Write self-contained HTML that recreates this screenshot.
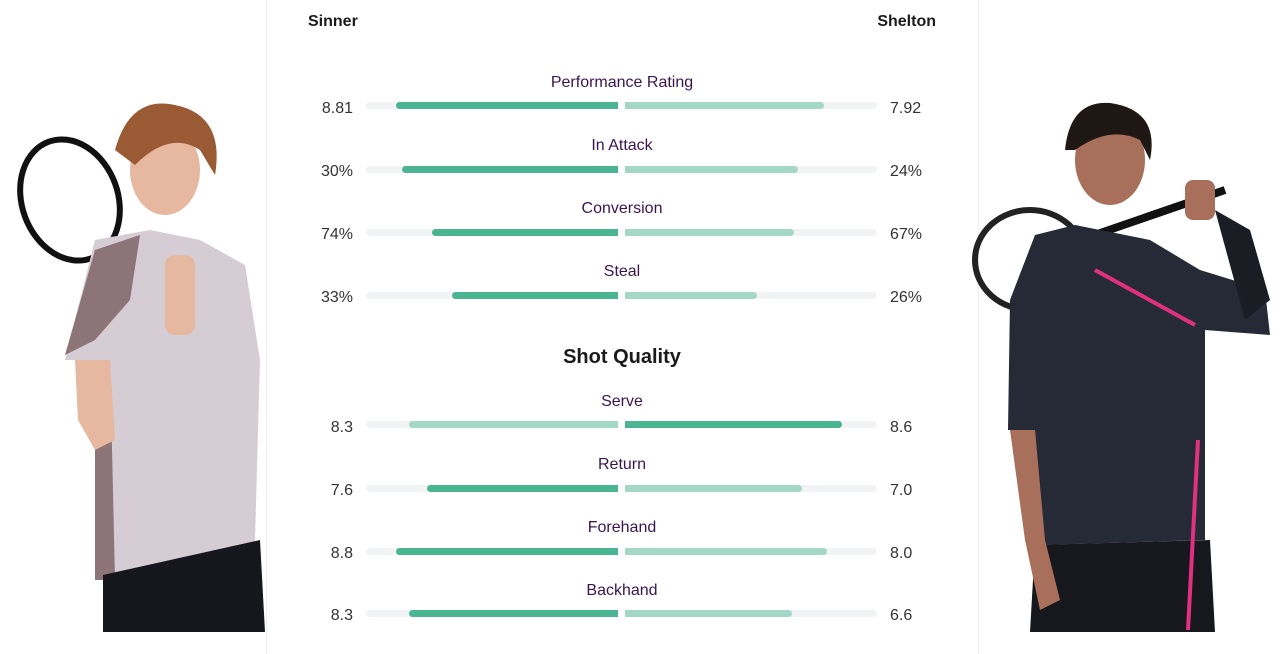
<!DOCTYPE html>
<html><head><meta charset="utf-8"><style>
*{margin:0;padding:0;box-sizing:border-box}
body{width:1280px;height:654px;background:#fff;position:relative;overflow:hidden;font-family:"Liberation Sans",sans-serif}
.vl{position:absolute;top:0;width:1px;height:654px;background:#efefef}
.t{position:absolute;white-space:nowrap}
.lab{color:#3b1450;font-size:16px;width:300px;left:472px;text-align:center}
.num{color:#333;font-size:16px}
.nl{right:927px;text-align:right}
.nr{left:890px}
.b{position:absolute;height:7px}
.d{background:#4bb491}.l{background:#a3d8c7}
.tl{position:absolute;height:7px;background:#f2f3f5;left:366px;width:252px;border-radius:4px 0 0 4px}
.trr{position:absolute;height:7px;background:#f2f3f5;left:625px;width:252px;border-radius:0 4px 4px 0}
</style></head><body>
<div class="vl" style="left:266px"></div><div class="vl" style="left:978px"></div>
<div class="t" style="left:308px;top:13px;font-size:16px;font-weight:bold;color:#1a1a1a">Sinner</div>
<div class="t" style="right:344px;top:13px;font-size:16px;font-weight:bold;color:#1a1a1a">Shelton</div>
<div class="t" style="left:472px;width:300px;text-align:center;top:346px;font-size:20px;font-weight:bold;color:#1a1a1a">Shot Quality</div>

<svg width="1280" height="654" style="position:absolute;left:0;top:0">
<ellipse cx="70" cy="200" rx="48" ry="62" fill="none" stroke="#111" stroke-width="6" transform="rotate(-20 70 200)"/>
<line x1="110" y1="240" x2="200" y2="285" stroke="#eee" stroke-width="8"/>
<path d="M95 240 L150 230 L200 240 L245 265 L260 360 L255 540 L245 575 L95 580 L100 360 L65 360 Z" fill="#d6cdd4"/>
<path d="M95 250 L140 235 L130 300 L95 340 L65 355 Z" fill="#8d7478"/>
<path d="M95 360 L110 360 L115 580 L95 580 Z" fill="#8d7478"/>
<path d="M103 575 L260 540 L265 632 L103 632 Z" fill="#15171c"/>
<path d="M75 360 L110 360 L115 440 L95 450 L78 420 Z" fill="#e7b8a0"/>
<rect x="165" y="255" width="30" height="80" fill="#e7b8a0" rx="10"/>
<ellipse cx="165" cy="170" rx="35" ry="45" fill="#e7b8a0"/>
<path d="M115 150 Q130 95 175 105 Q225 115 215 175 L200 150 Q170 130 135 165 Z" fill="#9a5a34"/>
<ellipse cx="1030" cy="260" rx="55" ry="50" fill="none" stroke="#222" stroke-width="6"/>
<line x1="1080" y1="240" x2="1225" y2="190" stroke="#111" stroke-width="8"/>
<path d="M1035 235 L1075 225 L1150 240 L1200 270 L1265 290 L1270 335 L1205 330 L1205 540 L1040 545 L1035 430 L1008 430 L1010 300 Z" fill="#262a36"/>
<path d="M1035 545 L1210 540 L1215 632 L1030 632 Z" fill="#16181e"/>
<path d="M1010 430 L1035 430 L1045 540 L1060 600 L1040 610 L1025 540 Z" fill="#a8705a"/>
<rect x="1185" y="180" width="30" height="40" fill="#a8705a" rx="8"/>
<path d="M1215 210 L1250 230 L1270 300 L1245 320 Z" fill="#1b1d25"/>
<ellipse cx="1110" cy="160" rx="35" ry="45" fill="#a8705a"/>
<path d="M1065 150 Q1070 100 1110 103 Q1160 110 1150 160 L1140 140 Q1110 125 1075 150 Z" fill="#1e1714"/>
<line x1="1095" y1="270" x2="1195" y2="325" stroke="#e0307f" stroke-width="4"/>
<line x1="1198" y1="440" x2="1188" y2="630" stroke="#e0307f" stroke-width="4"/>
</svg>

<div class="t lab" style="top:74px">Performance Rating</div>
<div class="t num nl" style="top:100px">8.81</div><div class="t num nr" style="top:100px">7.92</div>
<div class="tl" style="top:102px"></div><div class="trr" style="top:102px"></div>
<div class="b d" style="left:396px;top:102px;width:222px;border-radius:4px 0 0 4px"></div>
<div class="b l" style="left:625px;top:102px;width:199px;border-radius:0 4px 4px 0"></div>

<div class="t lab" style="top:137px">In Attack</div>
<div class="t num nl" style="top:163px">30%</div><div class="t num nr" style="top:163px">24%</div>
<div class="tl" style="top:166px"></div><div class="trr" style="top:166px"></div>
<div class="b d" style="left:402px;top:166px;width:216px;border-radius:4px 0 0 4px"></div>
<div class="b l" style="left:625px;top:166px;width:173px;border-radius:0 4px 4px 0"></div>

<div class="t lab" style="top:200px">Conversion</div>
<div class="t num nl" style="top:226px">74%</div><div class="t num nr" style="top:226px">67%</div>
<div class="tl" style="top:229px"></div><div class="trr" style="top:229px"></div>
<div class="b d" style="left:432px;top:229px;width:186px;border-radius:4px 0 0 4px"></div>
<div class="b l" style="left:625px;top:229px;width:169px;border-radius:0 4px 4px 0"></div>

<div class="t lab" style="top:263px">Steal</div>
<div class="t num nl" style="top:289px">33%</div><div class="t num nr" style="top:289px">26%</div>
<div class="tl" style="top:292px"></div><div class="trr" style="top:292px"></div>
<div class="b d" style="left:452px;top:292px;width:166px;border-radius:4px 0 0 4px"></div>
<div class="b l" style="left:625px;top:292px;width:132px;border-radius:0 4px 4px 0"></div>

<div class="t lab" style="top:393px">Serve</div>
<div class="t num nl" style="top:419px">8.3</div><div class="t num nr" style="top:419px">8.6</div>
<div class="tl" style="top:421px"></div><div class="trr" style="top:421px"></div>
<div class="b l" style="left:409px;top:421px;width:209px;border-radius:4px 0 0 4px"></div>
<div class="b d" style="left:625px;top:421px;width:217px;border-radius:0 4px 4px 0"></div>

<div class="t lab" style="top:456px">Return</div>
<div class="t num nl" style="top:482px">7.6</div><div class="t num nr" style="top:482px">7.0</div>
<div class="tl" style="top:485px"></div><div class="trr" style="top:485px"></div>
<div class="b d" style="left:427px;top:485px;width:191px;border-radius:4px 0 0 4px"></div>
<div class="b l" style="left:625px;top:485px;width:177px;border-radius:0 4px 4px 0"></div>

<div class="t lab" style="top:519px">Forehand</div>
<div class="t num nl" style="top:545px">8.8</div><div class="t num nr" style="top:545px">8.0</div>
<div class="tl" style="top:548px"></div><div class="trr" style="top:548px"></div>
<div class="b d" style="left:396px;top:548px;width:222px;border-radius:4px 0 0 4px"></div>
<div class="b l" style="left:625px;top:548px;width:202px;border-radius:0 4px 4px 0"></div>

<div class="t lab" style="top:582px">Backhand</div>
<div class="t num nl" style="top:607px">8.3</div><div class="t num nr" style="top:607px">6.6</div>
<div class="tl" style="top:610px"></div><div class="trr" style="top:610px"></div>
<div class="b d" style="left:409px;top:610px;width:209px;border-radius:4px 0 0 4px"></div>
<div class="b l" style="left:625px;top:610px;width:167px;border-radius:0 4px 4px 0"></div>
</body></html>
